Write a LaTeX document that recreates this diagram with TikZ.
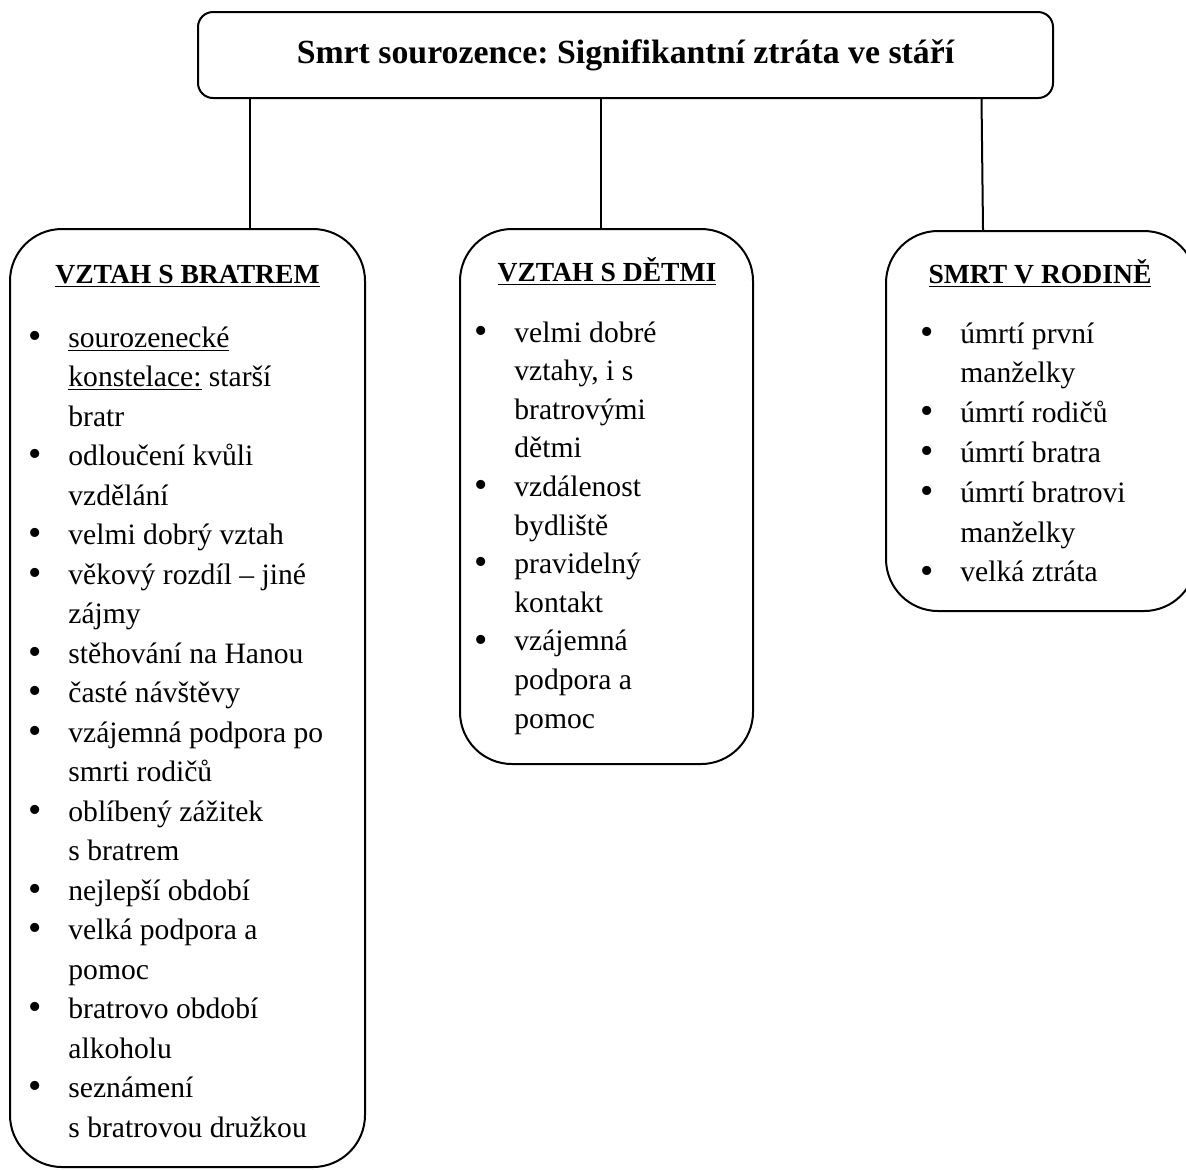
\documentclass[tikz,border=0pt]{standalone}
\usepackage{fontspec}
\setmainfont{Liberation Serif}
\frenchspacing

\newcommand\bl{\llap{\raisebox{-0.6pt}{\fontsize{19}{19}\selectfont\textbullet}\hspace{13.5pt}}}

\tikzset{
  titlebox/.style={draw, line width=1pt, rounded corners=7.5pt,
    minimum width=427.5pt, minimum height=43pt, text height=11pt, text depth=3pt,
    font=\fontsize{16.9}{20}\selectfont\bfseries},
  groupbox/.style={draw, line width=1pt, rounded corners=26pt, anchor=north},
  headtext/.style={anchor=base, inner sep=0pt, font=\fontsize{13.8}{16}\selectfont\bfseries},
  itemtext/.style={anchor=base west, inner sep=0pt, font=\fontsize{14.8}{18}\selectfont},
  link/.style={line width=1pt}
}

\begin{document}
\begin{tikzpicture}[x=0.5pt, y=-0.5pt]
        \useasboundingbox (0,0) rectangle (1186,1169);
        % top box
        \node[titlebox] (title) at (625.5,55) {Smrt sourozence: Signifikantní ztráta ve stáří};
        % three groups
        \node[groupbox, minimum width=177.5pt, minimum height=469pt] (brat) at (187.5,228) {};
        \node[groupbox, minimum width=146.5pt, minimum height=267.5pt] (deti) at (606.5,228) {};
        \node[groupbox, minimum width=155pt, minimum height=190pt] (smrt) at (1041,230) {};
        \coordinate (c1) at (250,228);
        \coordinate (c2) at (601,228);
        \coordinate (c3) at (983,230);
        \draw[link] (title.south -| c1) -- (c1);
        \draw[link] (title.south -| c2) -- (c2);
        \draw[link] ([xshift=-0.75pt]title.south -| c3) -- (c3);
        % headings
        \node[headtext] (brat-h) at (187.5,283) {\underline{VZTAH S BRATREM}};
        \node[headtext] (deti-h) at (607,281) {\underline{VZTAH S DĚTMI}};
        \node[headtext] (smrt-h) at (1040,283) {\underline{SMRT V RODINĚ}};
        % items
        \foreach \t [count=\i] in {\bl\underline{sourozenecké}, \underline{konstelace:} starší, bratr,
            \bl odloučení kvůli, vzdělání, \bl velmi dobrý vztah, \bl věkový rozdíl – jiné, zájmy,
            \bl stěhování na Hanou, \bl časté návštěvy, \bl vzájemná podpora po, smrti rodičů,
            \bl oblíbený zážitek, s bratrem, \bl nejlepší období, \bl velká podpora a, pomoc,
            \bl bratrovo období, alkoholu, \bl seznámení, s bratrovou družkou}
          \node[itemtext] (brat-\i) at (68,{347+(\i-1)*39.5}) {\t};
        \foreach \t [count=\i] in {\bl velmi dobré, {vztahy, i s}, bratrovými, dětmi,
            \bl vzdálenost, bydliště, \bl pravidelný, kontakt, \bl vzájemná, podpora a, pomoc}
          \node[itemtext] (deti-\i) at (514,{342+(\i-1)*38.6}) {\t};
        \foreach \t [count=\i] in {\bl úmrtí první, manželky, \bl úmrtí rodičů, \bl úmrtí bratra,
            \bl úmrtí bratrovi, manželky, \bl velká ztráta}
          \node[itemtext] (smrt-\i) at (960,{343+(\i-1)*39.8}) {\t};
\end{tikzpicture}
\end{document}
